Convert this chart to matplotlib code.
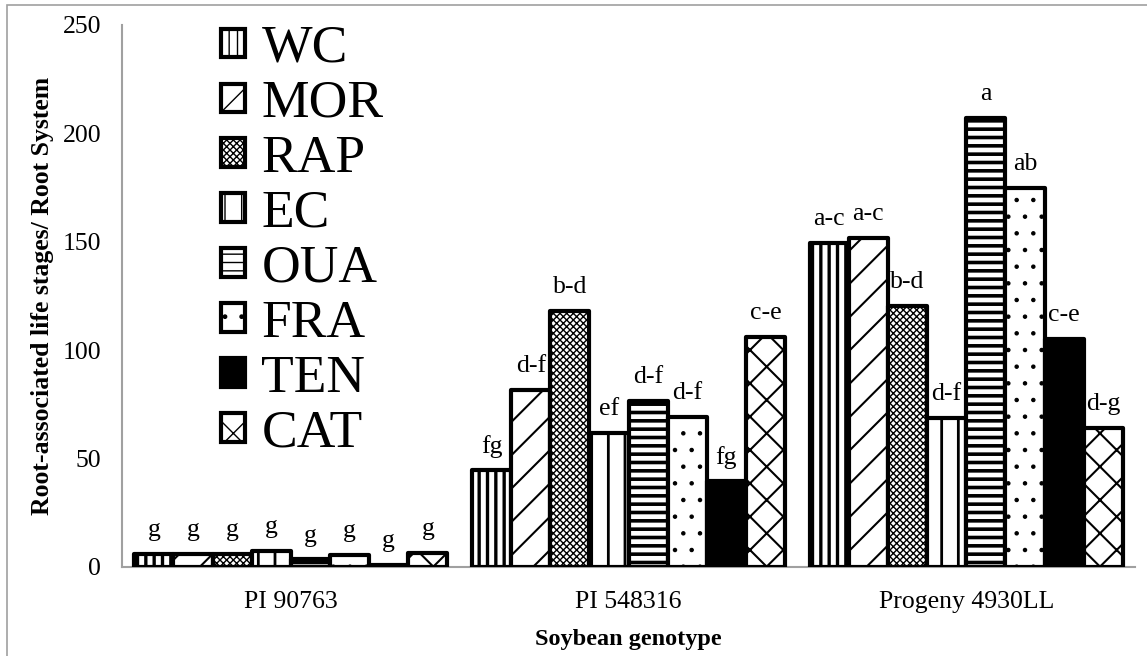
import numpy as np
import matplotlib
matplotlib.use("Agg")
import matplotlib.pyplot as plt

plt.rcParams['font.family'] = ['Liberation Serif', 'DejaVu Serif']

# genotypes on the x axis and the eight isolates per genotype
genotypes = ['PI 90763', 'PI 548316', 'Progeny 4930LL']
isolates = ['WC', 'MOR', 'RAP', 'EC', 'OUA', 'FRA', 'TEN', 'CAT']

# mean root-associated life stages, one list per isolate (genotype order)
wc = [6, 44.7, 149.5]
mor = [6, 81.6, 151.9]
rap = [6, 118.2, 120.4]
ec = [7.5, 61.8, 68.7]
oua = [3.5, 76.7, 207.2]
fra = [5.5, 69.3, 174.8]
ten = [1, 39.8, 105.2]
cat = [6.5, 106.1, 64.1]

# mean separation letters
wc_lab = ['g', 'fg', 'a-c']
mor_lab = ['g', 'd-f', 'a-c']
rap_lab = ['g', 'b-d', 'b-d']
ec_lab = ['g', 'ef', 'd-f']
oua_lab = ['g', 'd-f', 'a']
fra_lab = ['g', 'd-f', 'ab']
ten_lab = ['g', 'fg', 'c-e']
cat_lab = ['g', 'c-e', 'd-g']

values = [wc, mor, rap, ec, oua, fra, ten, cat]
letters = [wc_lab, mor_lab, rap_lab, ec_lab, oua_lab, fra_lab, ten_lab, cat_lab]

# fill style for each isolate: (facecolor, hatch, hatch linewidth)
styles = [
    ('white', '||', 2.4),
    ('white', '/', 1.5),
    ('white', 'xxxxx', 1.0),
    ('white', '|', 2.0),
    ('white', '--', 2.6),
    ('white', '.', 0.8),
    ('black', '', 1.0),
    ('white', 'x', 1.5),
]

fig = plt.figure(figsize=(11.47, 6.56), dpi=100)
ax = fig.add_axes([0.1064, 0.1357, 0.8832, 0.8262])

# thin grey frame round the chart area (only left/top fall inside the figure)
fig.add_artist(plt.Rectangle((7 / 1147, -0.1), 1.2, 1 - 5 / 656 + 0.1,
                             transform=fig.transFigure, fill=False,
                             edgecolor='#a0a0a0', linewidth=1.2))

x = np.arange(len(genotypes))
width = 0.1159
n = len(isolates)
handles = []
for i, (name, vals, labs, (fc, hatch, hlw)) in enumerate(zip(isolates, values, letters, styles)):
    pos = x + (i - (n - 1) / 2) * width
    bars = ax.bar(pos, vals, width, facecolor=fc, edgecolor='black',
                  hatch=hatch, linewidth=3.0, joinstyle='round', zorder=3)
    for b in bars:
        if hasattr(b, 'set_hatch_linewidth'):
            b.set_hatch_linewidth(hlw)
    for p, v, t in zip(pos, vals, labs):
        ax.annotate(t, (p, v), xytext=(0, 17), textcoords='offset points',
                    ha='center', va='center', fontsize=18.5)
    handles.append(bars[0])

ax.set_xlim(-0.5, len(genotypes) - 0.5)
ax.set_ylim(0, 250)
ax.set_yticks([0, 50, 100, 150, 200, 250])
ax.set_xticks(x)
ax.set_xticklabels(genotypes)
ax.tick_params(axis='both', length=0, labelsize=18.5)
ax.tick_params(axis='y', pad=15)
ax.tick_params(axis='x', pad=17)

for s in ['top', 'right']:
    ax.spines[s].set_visible(False)
for s in ['left', 'bottom']:
    ax.spines[s].set_color('#a0a0a0')
    ax.spines[s].set_linewidth(1.5)

ax.set_ylabel('Root-associated life stages/ Root System', fontsize=18.5,
              fontweight='bold', labelpad=6)
ax.set_xlabel('Soybean genotype', fontsize=17.5, fontweight='bold', labelpad=12)

ax.legend(handles, isolates, loc='upper left', bbox_to_anchor=(0.098, 1.0),
          frameon=False, fontsize=38.5, labelspacing=0.13, handlelength=0.45,
          handleheight=0.45, handletextpad=0.3, borderpad=0, borderaxespad=0)

fig.savefig('out.png', dpi=100)
